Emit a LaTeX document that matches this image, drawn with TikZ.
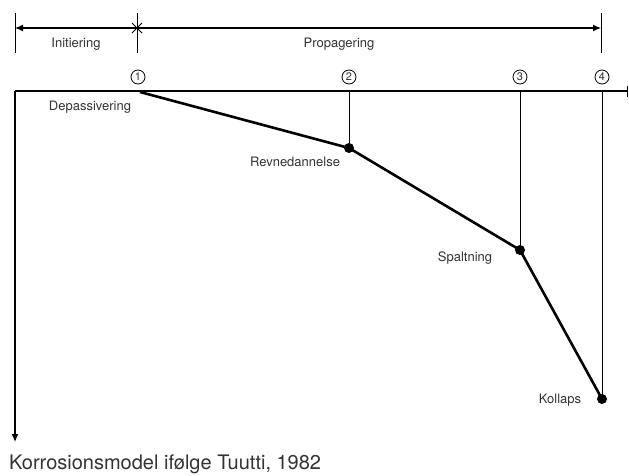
\documentclass[tikz,border=0pt]{standalone}
\usepackage{fontspec}
\setmainfont{TeX Gyre Heros}
\usepackage{tikz}
\usetikzlibrary{calc,arrows.meta}

\definecolor{txtgray}{HTML}{333333}
\tikzset{
  lbl/.style={text=txtgray,font=\fontsize{13}{15}\selectfont,inner sep=0pt},
  numcirc/.style={circle,draw,line width=0.8pt,inner sep=0.6pt,minimum size=14pt,
                  text=txtgray,font=\fontsize{11}{12}\selectfont},
  event/.style={circle,fill=black,inner sep=0pt,minimum size=10pt},
  thin guide/.style={line width=0.9pt},
  curve/.style={line width=2.6pt,line join=round}
}

\begin{document}
\begin{tikzpicture}[x=1pt,y=-1pt]
  \useasboundingbox (0,0) rectangle (629,475);

  % dimension line on top
  \coordinate (dl) at (15,28);
  \coordinate (dm) at (137,28);
  \coordinate (dr) at (601,28);
  \draw[line width=0.9pt] (15,13) -- (15,53);
  \draw[line width=0.9pt] (137,13) -- (137,53);
  \draw[line width=0.9pt] (601,13) -- (601,53);
  \draw[line width=1.2pt,{Latex[length=8pt,width=7pt]}-{Latex[length=8pt,width=7pt]}] (dl) -- (dr);
  \draw[line width=0.8pt] ($(dm)+(-5,-5)$) -- ($(dm)+(5,5)$);
  \draw[line width=0.8pt] ($(dm)+(-5,5)$) -- ($(dm)+(5,-5)$);
  \node[lbl] (ini) at (76,44) {Initiering};
  \node[lbl] (prop) at (339,44) {Propagering};

  % axes
  \coordinate (o) at (15,91);
  \coordinate (xend) at (628,91);
  \coordinate (yend) at (15,442);
  \draw[line width=1.3pt,-{Bar[width=11pt,line width=1pt]}] (o) -- (xend);
  \draw[line width=1.3pt,-{Latex[length=8pt,width=7pt]}] (o) -- (yend);

  % numbered stages
  \node[numcirc] (n1) at (138,77) {1};
  \node[numcirc] (n2) at (349,77) {2};
  \node[numcirc] (n3) at (520,77) {3};
  \node[numcirc] (n4) at (602,77) {4};

  % corrosion curve
  \coordinate (p1) at (140,92);
  \node[event] (p2) at (349,148) {};
  \node[event] (p3) at (520,250) {};
  \node[event] (p4) at (602,399) {};
  \draw[thin guide] (349,91) -- (p2.center);
  \draw[thin guide] (520,91) -- (p3.center);
  \draw[thin guide] (602,91) -- (p4.center);
  \draw[curve] (p1) -- (p2.center) -- (p3.center) -- (p4.center);

  \node[lbl] (dep) at (90,107) {Depassivering};
  \node[lbl] (rev) at (295,162) {Revnedannelse};
  \node[lbl] (spa) at (465,258) {Spaltning};
  \node[lbl] (kol) at (560,400) {Kollaps};

  \node[anchor=west,text=txtgray,font=\fontsize{20}{22}\selectfont,inner sep=0pt] (cap) at (9,464)
    {Korrosionsmodel ifølge Tuutti, 1982};
\end{tikzpicture}
\end{document}
